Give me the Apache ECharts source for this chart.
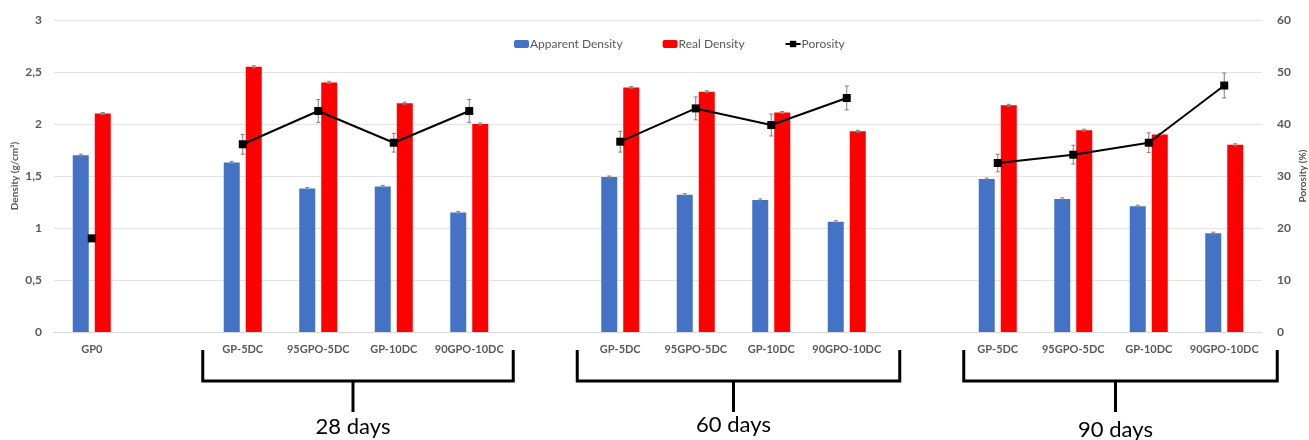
<!DOCTYPE html>
<html>
<head>
<meta charset="utf-8">
<script src="https://cdn.jsdelivr.net/npm/echarts@6/dist/echarts.min.js"></script>
<style>
html,body{margin:0;padding:0;background:#fff;}
#c{width:1309px;height:440px;}
</style>
</head>
<body>
<div id="c"></div>
<script>
// ---- data ----
var categories = ['GP0', '', 'GP-5DC', '95GPO-5DC', 'GP-10DC', '90GPO-10DC', '', 'GP-5DC', '95GPO-5DC', 'GP-10DC', '90GPO-10DC', '', 'GP-5DC', '95GPO-5DC', 'GP-10DC', '90GPO-10DC'];
var apparentDensity = [1.70, null, 1.63, 1.38, 1.40, 1.15, null, 1.49, 1.32, 1.27, 1.06, null, 1.47, 1.28, 1.21, 0.95];
var apparentErr     = [0.01, null, 0.01, 0.01, 0.01, 0.01, null, 0.01, 0.01, 0.01, 0.01, null, 0.01, 0.01, 0.01, 0.01];
var realDensity     = [2.10, null, 2.55, 2.40, 2.20, 2.00, null, 2.35, 2.31, 2.11, 1.93, null, 2.18, 1.94, 1.90, 1.80];
var realErr         = [0.01, null, 0.01, 0.01, 0.01, 0.01, null, 0.01, 0.01, 0.01, 0.01, null, 0.01, 0.01, 0.01, 0.01];
var porosity        = [18.0, null, 36.1, 42.5, 36.4, 42.5, null, 36.6, 43.0, 39.8, 45.0, null, 32.5, 34.1, 36.4, 47.4];
var porosityErr     = [0.6, null, 1.9, 2.2, 1.8, 2.2, null, 2.0, 2.2, 2.1, 2.3, null, 1.7, 1.8, 1.9, 2.4];
var leftTicks = { min: 0, max: 3, interval: 0.5 };
var rightTicks = { min: 0, max: 60, interval: 10 };
var groups = [
  { label: '28 days', from: 2, to: 5 },
  { label: '60 days', from: 7, to: 10 },
  { label: '90 days', from: 12, to: 15 }
];

// ---- layout (annotation placement, px) ----
var bracketLayout = [
  { padL: 40, padR: 44, textY: 427 },
  { padL: 43, padR: 53, textY: 425 },
  { padL: 34, padR: 53, textY: 430 }
];
var FONT = 'Lato, "Open Sans", "Liberation Sans", sans-serif';
var GRAY = '#595959';

function errData(vals, errs) {
  var out = [];
  for (var i = 0; i < vals.length; i++) {
    if (vals[i] == null) continue;
    out.push([i, vals[i] - errs[i], vals[i] + errs[i]]);
  }
  return out;
}
function errRender(offset, cap, color) {
  return function (params, api) {
    var lo = api.coord([api.value(0), api.value(1)]);
    var hi = api.coord([api.value(0), api.value(2)]);
    var x = lo[0] + offset;
    var st = { stroke: color, lineWidth: 1 };
    return {
      type: 'group',
      children: [
        { type: 'line', shape: { x1: x, y1: lo[1], x2: x, y2: hi[1] }, style: st },
        { type: 'line', shape: { x1: x - cap, y1: lo[1], x2: x + cap, y2: lo[1] }, style: st },
        { type: 'line', shape: { x1: x - cap, y1: hi[1], x2: x + cap, y2: hi[1] }, style: st }
      ]
    };
  };
}

var chart = echarts.init(document.getElementById('c'), null, { renderer: 'canvas' });
var option = {
  backgroundColor: '#fff',
  animation: false,
  textStyle: { fontFamily: FONT },
  legend: {
    data: ['Apparent Density', 'Real Density', 'Porosity'],
    top: 33,
    left: 509,
    itemWidth: 15,
    itemHeight: 8,
    itemGap: 40,
    textStyle: { color: GRAY, fontSize: 12, fontFamily: FONT, padding: [0, 0, 0, -4] }
  },
  grid: { left: 54, right: 47, top: 20, bottom: 108, containLabel: false, outerBoundsMode: 'none' },
  xAxis: {
    type: 'category',
    data: categories,
    axisLine: { show: true, lineStyle: { color: '#d9d9d9', width: 1 } },
    axisTick: { show: false },
    axisLabel: { color: GRAY, fontSize: 11, fontWeight: 'bold', margin: 12, interval: 0, fontFamily: FONT },
    splitLine: { show: false }
  },
  yAxis: [
    {
      type: 'value',
      min: leftTicks.min, max: leftTicks.max, interval: leftTicks.interval,
      name: 'Density (g/cm³)',
      nameLocation: 'middle',
      nameRotate: 90,
      nameGap: 34,
      nameMoveOverlap: false,
      nameTextStyle: { color: GRAY, fontSize: 10, fontWeight: 'bold', fontFamily: FONT },
      axisLine: { show: false },
      axisTick: { show: false },
      axisLabel: {
        color: GRAY, fontSize: 12, fontWeight: 'bold', margin: 12, fontFamily: FONT,
        formatter: function (v) { return String(v).replace('.', ','); }
      },
      splitLine: { show: true, lineStyle: { color: '#e3e3e3', width: 1 } }
    },
    {
      type: 'value',
      position: 'right',
      min: rightTicks.min, max: rightTicks.max, interval: rightTicks.interval,
      name: 'Porosity (%)',
      nameLocation: 'middle',
      nameRotate: 90,
      nameGap: 36,
      nameMoveOverlap: false,
      nameTextStyle: { color: GRAY, fontSize: 10, fontWeight: 'bold', fontFamily: FONT },
      axisLine: { show: false },
      axisTick: { show: false },
      axisLabel: { color: GRAY, fontSize: 12, fontWeight: 'bold', margin: 15, fontFamily: FONT },
      splitLine: { show: false }
    }
  ],
  series: [
    {
      name: 'Apparent Density', type: 'bar', data: apparentDensity,
      barWidth: 16, barGap: '37.5%',
      itemStyle: { color: '#4472c4' }
    },
    {
      name: 'Real Density', type: 'bar', data: realDensity,
      barWidth: 16, barGap: '37.5%',
      itemStyle: { color: '#ff0000' }
    },
    {
      name: 'apparentErr', type: 'custom', data: errData(apparentDensity, apparentErr),
      renderItem: errRender(-11, 2, '#7f7f7f'), z: 5, silent: true
    },
    {
      name: 'realErr', type: 'custom', data: errData(realDensity, realErr),
      renderItem: errRender(11, 2, '#7f7f7f'), z: 5, silent: true
    },
    {
      name: 'porosityErr', type: 'custom', yAxisIndex: 1, data: errData(porosity, porosityErr),
      renderItem: errRender(0, 2, '#7f7f7f'), z: 6, silent: true
    },
    {
      name: 'Porosity', type: 'line', yAxisIndex: 1, data: porosity,
      connectNulls: false,
      symbol: 'rect', symbolSize: 8, showSymbol: true, showAllSymbol: true,
      lineStyle: { color: '#000', width: 2 },
      itemStyle: { color: '#000' },
      z: 10
    }
  ]
};
chart.setOption(option);

// brackets anchored to the category axis
var g = [];
var topY = 350, midY = 381, stemY = 412;
groups.forEach(function (grp, k) {
  var L = bracketLayout[k];
  var x0 = chart.convertToPixel({ xAxisIndex: 0 }, grp.from) - L.padL;
  var x1 = chart.convertToPixel({ xAxisIndex: 0 }, grp.to) + L.padR;
  var cx = (x0 + x1) / 2 - 5;
  g.push({
    type: 'polyline',
    shape: { points: [[x0, topY], [x0, midY], [x1, midY], [x1, topY]] },
    style: { stroke: '#000', lineWidth: 3, fill: null, lineJoin: 'miter' }
  });
  g.push({
    type: 'line',
    shape: { x1: cx, y1: midY, x2: cx, y2: stemY },
    style: { stroke: '#000', lineWidth: 3 }
  });
  g.push({
    type: 'text',
    x: cx, y: L.textY,
    style: { text: grp.label, fill: '#000', font: '22px ' + FONT, align: 'center', verticalAlign: 'middle' }
  });
});
chart.setOption({ graphic: g });
</script>
</body>
</html>
